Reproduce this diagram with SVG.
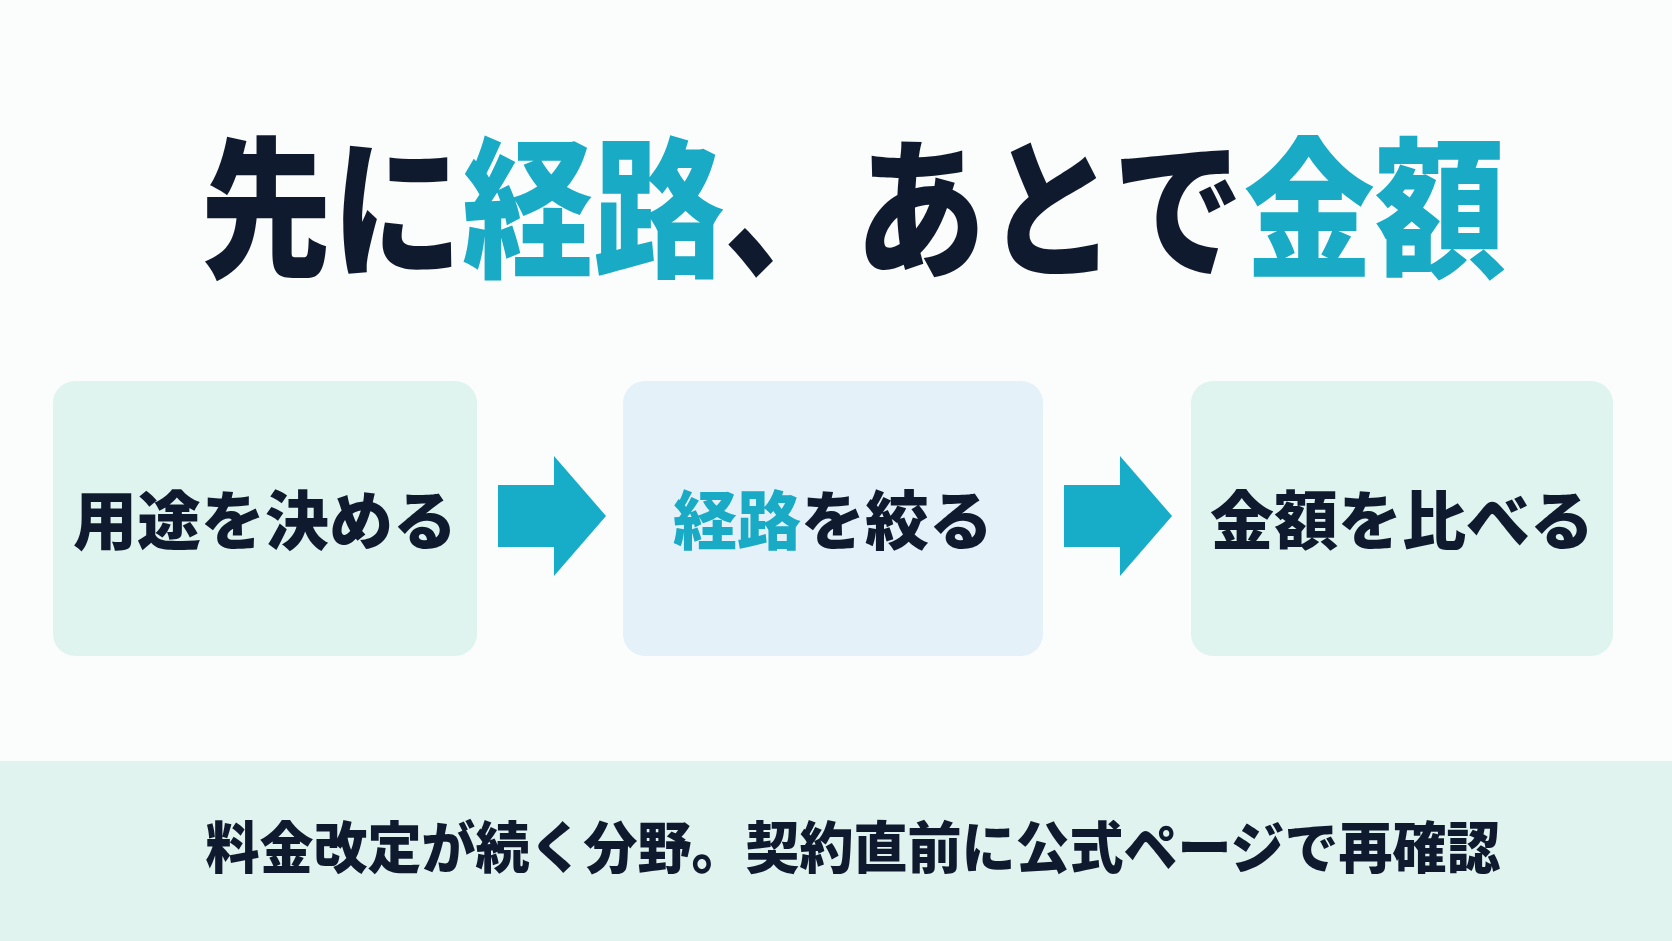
<svg xmlns="http://www.w3.org/2000/svg" width="1672" height="941" viewBox="0 0 1672 941">
<style>
text{font-family:"Noto Sans CJK JP","Noto Sans CJK SC",sans-serif;font-weight:900;fill:#0f1a2e;text-anchor:middle}
.t{fill:#19aac6}
.box{stroke:none}
.arr{fill:#17adc8}
</style>
<rect width="1672" height="941" fill="#fbfcfc"/>
<g id="title"><text x="853" y="266" font-size="152" textLength="1305" lengthAdjust="spacingAndGlyphs">先に<tspan class="t">経路</tspan>、あとで<tspan class="t">金額</tspan></text></g>
<g id="node1"><rect class="box" x="53" y="381" width="424" height="275" rx="22" fill="#e0f4ef"/><text x="265" y="544" font-size="64">用途を決める</text></g>
<g id="node2"><rect class="box" x="623" y="381" width="420" height="275" rx="22" fill="#e4f1f8"/><text x="833" y="544" font-size="64"><tspan class="t">経路</tspan>を絞る</text></g>
<g id="node3"><rect class="box" x="1191" y="381" width="422" height="275" rx="22" fill="#e0f4ef"/><text x="1402" y="544" font-size="64">金額を比べる</text></g>
<g id="connectors">
<polygon class="arr" points="498,485 554,485 554,456 606,516 554,576 554,547 498,547"/>
<polygon class="arr" points="1064,485 1120,485 1120,456 1172,516 1120,576 1120,547 1064,547"/>
</g>
<g id="footer"><rect x="0" y="761" width="1672" height="180" fill="#e0f3ef"/><text x="853" y="868" font-size="56" textLength="1295" lengthAdjust="spacingAndGlyphs">料金改定が続く分野。契約直前に公式ページで再確認</text></g>
</svg>
